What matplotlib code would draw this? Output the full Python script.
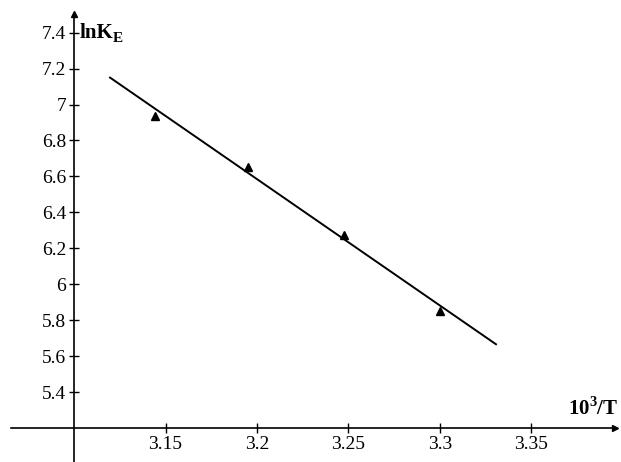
import matplotlib
matplotlib.use("Agg")
import matplotlib.pyplot as plt

# data
inv_T = [3.1443, 3.1949, 3.2475, 3.3002]
lnK = [6.936, 6.652, 6.273, 5.851]
fit_x = [3.1197, 3.3306]
fit_y = [7.150, 5.666]

x_ticks = [3.15, 3.2, 3.25, 3.3, 3.35]
x_tick_labels = ["3.15", "3.2", "3.25", "3.3", "3.35"]
y_ticks = [5.4, 5.6, 5.8, 6.0, 6.2, 6.4, 6.6, 6.8, 7.0, 7.2, 7.4]
y_tick_labels = ["5.4", "5.6", "5.8", "6", "6.2", "6.4", "6.6", "6.8", "7", "7.2", "7.4"]

plt.rcParams['font.family'] = ['Liberation Serif', 'DejaVu Serif']
plt.rcParams['mathtext.fontset'] = 'custom'
plt.rcParams['mathtext.rm'] = 'Liberation Serif'
plt.rcParams['mathtext.bf'] = 'Liberation Serif:bold'

fig = plt.figure(figsize=(6.21, 4.62), dpi=100)
ax = fig.add_axes([0, 0, 1, 1])
ax.set_xlim(3.05956, 3.39891)
ax.set_ylim(5.0108, 7.5818)

# axes cross at (3.1, 5.2)
ax.spines['left'].set_position(('data', 3.1))
ax.spines['bottom'].set_position(('data', 5.2))
ax.spines['left'].set_bounds(5.0108, 7.50)
ax.spines['bottom'].set_bounds(3.0656, 3.394)
ax.spines['right'].set_visible(False)
ax.spines['top'].set_visible(False)
for s in ['left', 'bottom']:
    ax.spines[s].set_linewidth(1.2)
ax.plot([3.1], [7.505], marker='^', color='black', markersize=5, clip_on=False)
ax.plot([3.3955], [5.2], marker='>', color='black', markersize=5, clip_on=False)

ax.set_xticks(x_ticks)
ax.set_xticklabels(x_tick_labels)
ax.set_yticks(y_ticks)
ax.set_yticklabels(y_tick_labels)
ax.tick_params(direction='inout', length=7, width=1.0, labelsize=14)
ax.tick_params(axis='x', pad=2)
ax.tick_params(axis='y', pad=2)

ax.plot(fit_x, fit_y, color='black', linewidth=1.4)
ax.plot(inv_T, lnK, linestyle='none', marker='^', color='black', markersize=6)

# axis titles: lnK_E at top, 10^3/T at right
ax.text(3.1030, 7.40, 'lnK', fontsize=15, fontweight='bold',
        va='center', ha='left')
ax.text(3.1212, 7.37, 'E', fontsize=11, fontweight='bold',
        va='center', ha='left')
ax.text(3.3975, 5.248, r'10$^\mathbf{3}$/T', fontsize=15, fontweight='bold',
        va='bottom', ha='right')

fig.savefig('out.png', dpi=100)
